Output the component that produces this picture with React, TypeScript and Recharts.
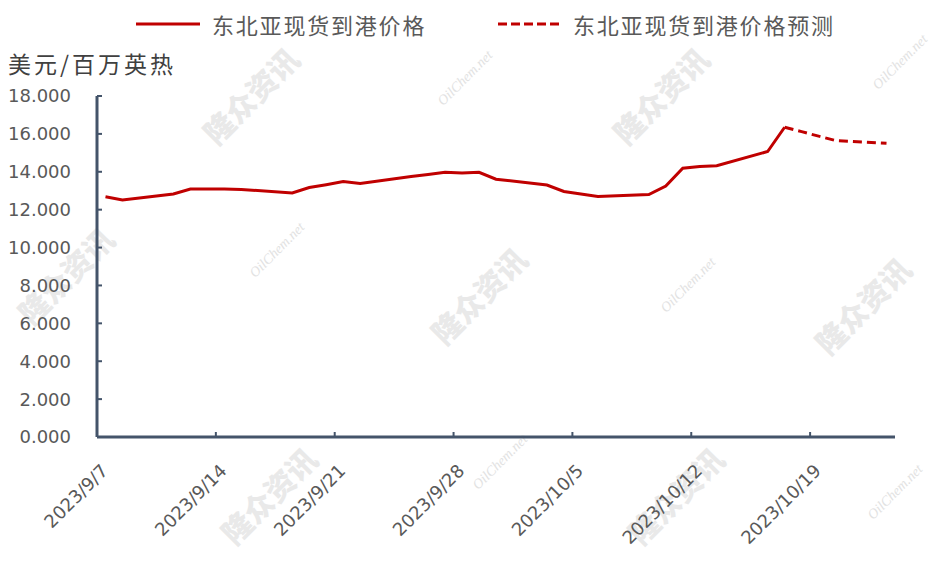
import { LineChart, Line, XAxis, YAxis } from "recharts";

// x positions are day offsets from 2023/9/7
const tickDays = [0, 7, 14, 21, 28, 35, 42];
const tickLabels = ["2023/9/7", "2023/9/14", "2023/9/21", "2023/9/28", "2023/10/5", "2023/10/12", "2023/10/19"];

const actualDays = [0, 1, 4, 5, 6, 7, 8, 11, 12, 13, 14, 15, 18, 19, 20, 21, 22, 23, 26, 27, 29, 32, 33, 34, 35, 36, 39, 40];
const actualPrices = [
  12.68, 12.51, 12.83, 13.09, 13.09, 13.09, 13.07, 12.88, 13.17, 13.32, 13.49, 13.38, 13.75, 13.86,
  13.97, 13.93, 13.97, 13.61, 13.3, 12.96, 12.7, 12.8, 13.25, 14.19, 14.28, 14.32, 15.07, 16.35,
];

const forecastDays = [40, 41, 42, 43, 46];
const forecastPrices = [16.35, 16.12, 15.88, 15.65, 15.5];

const yTicks = [0, 2, 4, 6, 8, 10, 12, 14, 16, 18];

const actualName = "东北亚现货到港价格";
const forecastName = "东北亚现货到港价格预测";
const unitLabel = "美元/百万英热";

const RED = "#c00000";
const AXIS = "#44546a";
const TEXT = "#595959";
const NUM_FONT = "'DejaVu Sans', sans-serif";
const CJK_FONT = "'Noto Sans CJK SC', sans-serif";

const allDays = Array.from(new Set([...actualDays, ...forecastDays])).sort((a, b) => a - b);
const data = allDays.map((d) => {
  const ai = actualDays.indexOf(d);
  const fi = forecastDays.indexOf(d);
  return {
    x: d + 0.5,
    actual: ai >= 0 ? actualPrices[ai] : null,
    forecast: fi >= 0 ? forecastPrices[fi] : null,
  };
});

// watermark spots (decoration of the source image)
const brandMarks = [
  [250, 95], [660, 95], [65, 275], [478, 295], [862, 305], [268, 495], [675, 495],
];
const siteMarks = [
  [465, 78], [900, 62], [277, 250], [688, 285], [500, 462], [895, 492],
];

function XTick(props: any) {
  const { x, y, payload } = props;
  const label = tickLabels[tickDays.indexOf(payload.value)];
  return (
    <g transform={`translate(${x + 12},${y})`}>
      <text textAnchor="end" transform="rotate(-45)" fontFamily={NUM_FONT} fontSize={18} fill={TEXT}>
        {label}
      </text>
    </g>
  );
}

export default function App() {
  return (
    <div style={{ position: "absolute", left: 0, top: 0, width: 940, height: 563, background: "#fff" }}>
      {/* watermarks under the chart */}
      <svg width={940} height={563} style={{ position: "absolute", left: 0, top: 0 }}>
        {brandMarks.map(([cx, cy], i) => (
          <text
            key={`b${i}`}
            x={cx}
            y={cy}
            textAnchor="middle"
            dominantBaseline="central"
            transform={`rotate(-45 ${cx} ${cy})`}
            fontFamily={CJK_FONT}
            fontWeight={900}
            fontSize={30}
            fill="#e9e9e9"
          >
            隆众资讯
          </text>
        ))}
        {siteMarks.map(([cx, cy], i) => (
          <text
            key={`s${i}`}
            x={cx}
            y={cy}
            textAnchor="middle"
            dominantBaseline="central"
            transform={`rotate(-45 ${cx} ${cy})`}
            fontFamily="'Liberation Serif', serif"
            fontStyle="italic"
            fontSize={14}
            fill="#e2e2e2"
          >
            OilChem.net
          </text>
        ))}
      </svg>

      <div style={{ position: "absolute", left: 0, top: 0 }}>
        <LineChart width={940} height={563} data={data} margin={{ top: 96, right: 45, bottom: 0, left: 0 }}>
          <XAxis
            type="number"
            dataKey="x"
            domain={[0, 47]}
            ticks={tickDays}
            interval={0}
            height={126}
            tickSize={-5}
            tickMargin={40}
            axisLine={{ stroke: AXIS, strokeWidth: 3 }}
            tickLine={{ stroke: AXIS, strokeWidth: 2 }}
            tick={<XTick />}
            allowDataOverflow
          />
          <YAxis
            domain={[0, 18]}
            ticks={yTicks}
            interval={0}
            width={97}
            tickSize={-5}
            tickMargin={31}
            tickFormatter={(v: number) => v.toFixed(3)}
            axisLine={{ stroke: AXIS, strokeWidth: 3 }}
            tickLine={{ stroke: AXIS, strokeWidth: 2 }}
            tick={{ fontFamily: NUM_FONT, fontSize: 18, fill: TEXT }}
          />
          <Line
            dataKey="actual"
            stroke={RED}
            strokeWidth={3}
            dot={false}
            activeDot={false}
            isAnimationActive={false}
          />
          <Line
            dataKey="forecast"
            stroke={RED}
            strokeWidth={3}
            strokeDasharray="9 5"
            dot={false}
            activeDot={false}
            isAnimationActive={false}
          />
        </LineChart>
      </div>

      {/* legend + unit title */}
      <svg width={940} height={563} style={{ position: "absolute", left: 0, top: 0, pointerEvents: "none" }}>
        <line x1={136} y1={24} x2={200} y2={24} stroke={RED} strokeWidth={3} />
        <text x={212} y={24} dominantBaseline="central" fontFamily={CJK_FONT} fontSize={22} letterSpacing={1.8} fill={TEXT}>
          {actualName}
        </text>
        <line x1={498} y1={24} x2={563} y2={24} stroke={RED} strokeWidth={3} strokeDasharray="9 4" />
        <text x={573} y={24} dominantBaseline="central" fontFamily={CJK_FONT} fontSize={22} letterSpacing={1.8} fill={TEXT}>
          {forecastName}
        </text>
        <text x={8} y={63} dominantBaseline="central" fontFamily={CJK_FONT} fontSize={23} letterSpacing={3} fill="#404040">
          {unitLabel}
        </text>
      </svg>
    </div>
  );
}
